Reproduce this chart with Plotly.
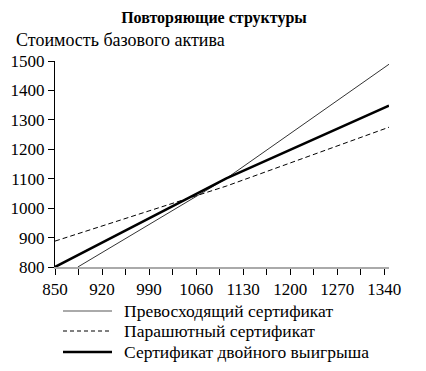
import plotly.graph_objects as go

# Data
names = ["Превосходящий сертификат", "Парашютный сертификат", "Сертификат двойного выигрыша"]
x_superior = [884, 1105, 1347]
y_superior = [800, 1101, 1489]
x_parachute = [850, 1105, 1347]
y_parachute = [888, 1075, 1275]
x_twin = [850, 1105, 1347]
y_twin = [800, 1101, 1348]
x_ticks = [850, 920, 990, 1060, 1130, 1200, 1270, 1340]
y_ticks = [800, 900, 1000, 1100, 1200, 1300, 1400, 1500]

FONT = "Liberation Serif, Times New Roman, Times, serif"
OFF = 8  # page body margin offset
W, H = 426 - OFF, 371 - OFF
L, R, T, B = 55 - OFF, 37, 61 - OFF, 104
PW, PH = W - L - R, H - T - B


def px_x(p):
    return (p - OFF - L) / PW


def px_y(p):
    return (H - B - (p - OFF)) / PH


fig = go.Figure()
fig.add_trace(go.Scatter(x=x_superior, y=y_superior, mode="lines", name=names[0],
                         line=dict(color="#333333", width=1)))
fig.add_trace(go.Scatter(x=x_parachute, y=y_parachute, mode="lines", name=names[1],
                         line=dict(color="black", width=1, dash="5px,3px")))
fig.add_trace(go.Scatter(x=x_twin, y=y_twin, mode="lines", name=names[2],
                         line=dict(color="black", width=2.5)))

# manual legend below the chart
leg_styles = [dict(color="#aaaaaa", width=2), dict(color="black", width=1, dash="4px,3px"),
              dict(color="black", width=2.5)]
leg_y = [311, 331, 352]
shapes = []
annotations = []
for nm, st, yy in zip(names, leg_styles, leg_y):
    shapes.append(dict(type="line", xref="paper", yref="paper", x0=px_x(63), x1=px_x(112),
                       y0=px_y(yy), y1=px_y(yy), line=st))
    annotations.append(dict(text=nm, xref="paper", yref="paper", x=px_x(122), y=px_y(yy),
                            xanchor="left", yanchor="middle", showarrow=False,
                            font=dict(size=17.5, family=FONT)))
annotations.append(dict(text="Стоимость базового актива", xref="paper", yref="paper",
                        x=px_x(14), y=px_y(40), xanchor="left", yanchor="middle",
                        showarrow=False, font=dict(size=18, family=FONT)))

fig.update_layout(
    width=W, height=H,
    margin=dict(l=L, r=R, t=T, b=B, autoexpand=False),
    paper_bgcolor="white", plot_bgcolor="white",
    font=dict(family=FONT, size=16, color="black"),
    title=dict(text="<b>Повторяющие структуры</b>", x=px_x(214), xanchor="center", xref="paper",
               y=1 - (17 - OFF) / H, yanchor="middle", font=dict(size=16, family=FONT)),
    showlegend=False,
    shapes=shapes,
    annotations=annotations,
)
fig.update_xaxes(range=[850, 1347], tickvals=x_ticks, ticktext=[str(v) for v in x_ticks],
                 showgrid=False, zeroline=False, showline=True, linecolor="#aaaaaa",
                 linewidth=2, ticks="outside", ticklen=6, tickcolor="black",
                 tickfont=dict(size=17, family=FONT),
                 minor=dict(dtick=35, tick0=850, ticks="outside", ticklen=6,
                            tickcolor="black", showgrid=False))
fig.update_yaxes(range=[800, 1500], tickvals=y_ticks, ticktext=[str(v) for v in y_ticks],
                 showgrid=False, zeroline=False, showline=True, linecolor="black",
                 linewidth=1, ticks="outside", ticklen=6, tickcolor="black",
                 tickfont=dict(size=17, family=FONT))

fig.write_html("out.html")
